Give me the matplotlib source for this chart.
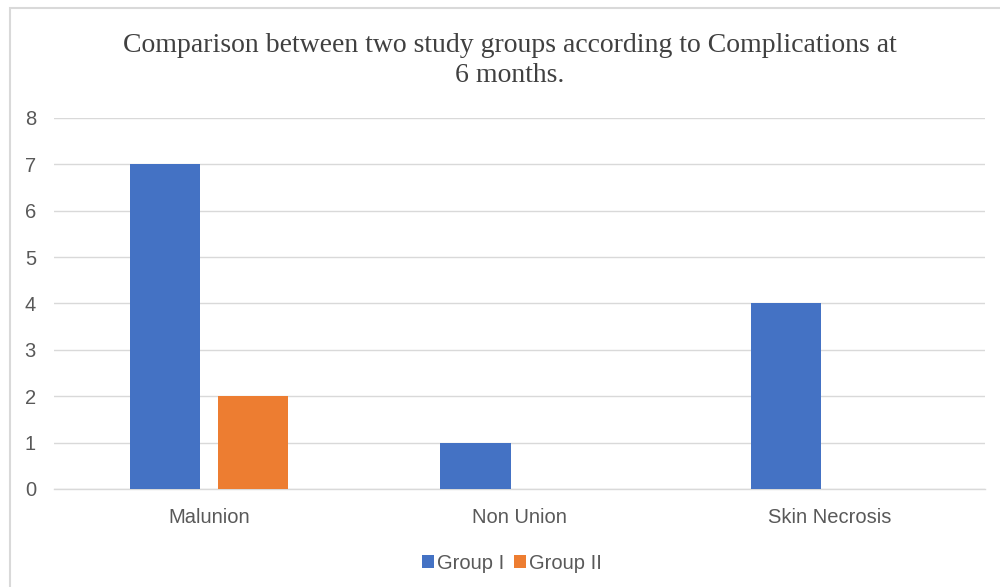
import matplotlib
matplotlib.use("Agg")
import matplotlib.pyplot as plt
from matplotlib.patches import Rectangle
import numpy as np

categories = ["Malunion", "Non Union", "Skin Necrosis"]
group_1 = [7, 1, 4]
group_2 = [2, 0, 0]
y_ticks = [0, 1, 2, 3, 4, 5, 6, 7, 8]

fig = plt.figure(figsize=(10, 5.87), dpi=100)
ax = fig.add_axes([0.054, 0.167, 0.931, 0.632])

# outer chart border (cut off at right/bottom like the screenshot)
fig.patches.append(Rectangle((0.010, -0.1), 1.1, 1.086, transform=fig.transFigure,
                             fill=False, edgecolor="#d9d9d9", linewidth=1.5))

x = np.arange(len(categories))
w = 0.226
ax.bar(x - 0.142, group_1, w, color="#4472c4", label="Group I", zorder=3)
ax.bar(x + 0.142, group_2, w, color="#ed7d31", label="Group II", zorder=3)

ax.set_xlim(-0.5, 2.5)
ax.set_ylim(0, 8)
ax.set_yticks(y_ticks)
ax.set_xticks(x)
ax.set_xticklabels(categories)
ax.grid(axis="y", color="#d9d9d9", linewidth=1, zorder=0)
ax.axhline(0, color="#d9d9d9", linewidth=1, zorder=2, clip_on=False)
for s in ax.spines.values():
    s.set_visible(False)
ax.tick_params(length=0, labelsize=14.5, colors="#595959", labelfontfamily="Liberation Sans")
ax.tick_params(axis="x", pad=14)
ax.tick_params(axis="y", pad=13)

fig.text(0.51, 0.897, "Comparison between two study groups according to Complications at\n6 months.",
         ha="center", va="center", fontsize=20, family="Liberation Serif",
         color="#404040", linespacing=1.3)

leg = ax.legend(loc="center", bbox_to_anchor=(0.492, -0.2), ncol=2, frameon=False,
                prop={"family": "Liberation Sans", "size": 14.5}, handlelength=0.6,
                handleheight=0.6, handletextpad=0.15, columnspacing=0.5)
for t in leg.get_texts():
    t.set_color("#595959")

fig.savefig("out.png", dpi=100, facecolor="white")
